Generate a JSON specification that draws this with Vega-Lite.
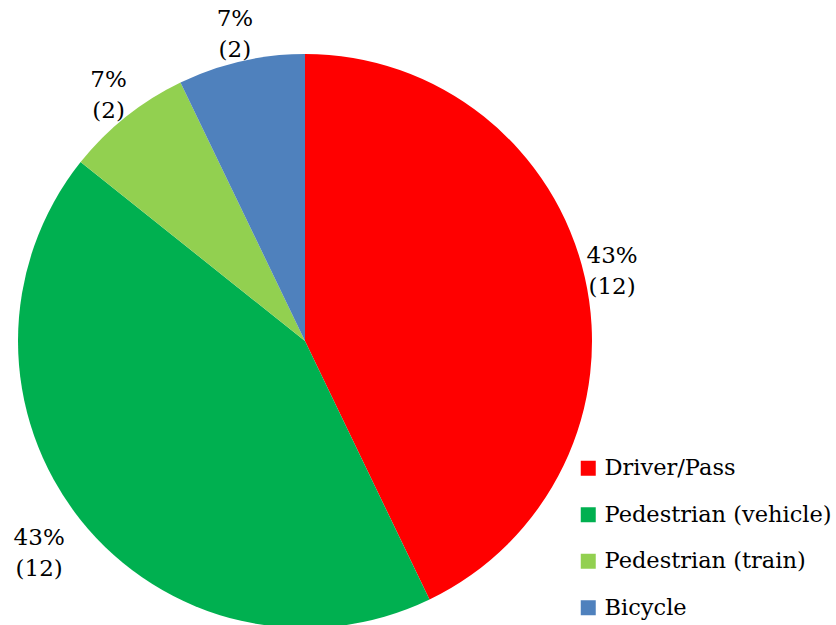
{
  "$schema": "https://vega.github.io/schema/vega-lite/v6.json",
  "width": 610,
  "height": 682,
  "autosize": "none",
  "padding": {"left": 0, "top": 0, "right": 226, "bottom": 0},
  "background": "white",
  "config": {"view": {"stroke": null}},
  "data": {
    "values": [
      {"category": "Driver/Pass", "count": 12, "label": "43%\n(12)", "rank": 1},
      {"category": "Pedestrian (vehicle)", "count": 12, "label": "43%\n(12)", "rank": 2},
      {"category": "Pedestrian (train)", "count": 2, "label": "7%\n(2)", "rank": 3},
      {"category": "Bicycle", "count": 2, "label": "7%\n(2)", "rank": 4}
    ]
  },
  "encoding": {
    "theta": {"field": "count", "type": "quantitative", "stack": true},
    "order": {"field": "rank", "type": "quantitative"}
  },
  "layer": [
    {
      "mark": {"type": "arc", "outerRadius": 287},
      "encoding": {
        "color": {
          "field": "category",
          "type": "nominal",
          "sort": ["Driver/Pass", "Pedestrian (vehicle)", "Pedestrian (train)", "Bicycle"],
          "scale": {
            "domain": ["Driver/Pass", "Pedestrian (vehicle)", "Pedestrian (train)", "Bicycle"],
            "range": ["#FF0000", "#00B050", "#92D050", "#4F81BD"]
          },
          "legend": {
            "orient": "none",
            "legendX": 577,
            "legendY": 457,
            "title": null,
            "padding": 0,
            "symbolType": "square",
            "symbolSize": 225,
            "symbolStrokeWidth": 0,
            "symbolOpacity": 1,
            "labelFont": "DejaVu Serif",
            "labelFontSize": 22.5,
            "labelColor": "black",
            "labelOffset": 5,
            "labelLimit": 400,
            "rowPadding": 23.5
          }
        }
      }
    },
    {
      "mark": {
        "type": "text",
        "radius": {"expr": "datum.category === 'Pedestrian (vehicle)' ? 340 : 315"},
        "font": "DejaVu Serif",
        "fontSize": 23,
        "lineBreak": "\n",
        "lineHeight": 31,
        "align": "center",
        "baseline": "middle",
        "dy": -15,
        "color": "black"
      },
      "encoding": {
        "text": {"field": "label", "type": "nominal"}
      }
    }
  ]
}
